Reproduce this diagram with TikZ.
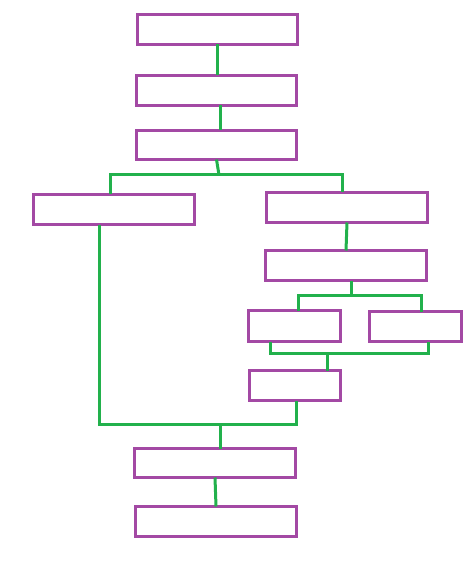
\documentclass[tikz,border=0pt]{standalone}
\usetikzlibrary{calc}
\definecolor{boxpurple}{HTML}{A349A4}
\definecolor{linkgreen}{HTML}{22B14C}
\tikzset{
  box/.style={draw=boxpurple, line width=3pt, rectangle, inner sep=0pt, outer sep=0pt, fill=none},
  link/.style={draw=linkgreen, line width=3pt, line join=miter, line cap=rect}
}
\begin{document}
\begin{tikzpicture}[x=1pt,y=-1pt]
\fill[white] (0,0) rectangle (474,569);
\useasboundingbox (0,0) rectangle (474,569);
% boxes
\node[box, minimum width=160pt, minimum height=30pt] (b1) at (217.5,29.5) {};
\node[box, minimum width=160pt, minimum height=30pt] (b2) at (216.5,90.5) {};
\node[box, minimum width=160pt, minimum height=29pt] (b3) at (216.5,145) {};
\node[box, minimum width=161pt, minimum height=30pt] (b4) at (114,209.5) {};
\node[box, minimum width=161pt, minimum height=30pt] (b5) at (347,207.5) {};
\node[box, minimum width=161pt, minimum height=30pt] (b6) at (346,265.5) {};
\node[box, minimum width=92pt, minimum height=31pt] (b7) at (294.5,326) {};
\node[box, minimum width=92pt, minimum height=30pt] (b8) at (415.5,326.5) {};
\node[box, minimum width=91pt, minimum height=30pt] (b9) at (295,385.5) {};
\node[box, minimum width=161pt, minimum height=29pt] (b10) at (215,463) {};
\node[box, minimum width=161pt, minimum height=30pt] (b11) at (216,521.5) {};
% junction coordinates
\coordinate (j1) at (219,175);
\coordinate (j1L) at (110,175);
\coordinate (j1R) at (342,175);
\coordinate (j2) at (351,295);
\coordinate (j2L) at (298,295);
\coordinate (j2R) at (421,295);
\coordinate (j3) at (327,353);
\coordinate (j3L) at (270,353);
\coordinate (j3R) at (428,353);
\coordinate (j4) at (220,424);
\coordinate (j4L) at (99,424);
\coordinate (j4R) at (296,424);
% connectors
\draw[link, line cap=butt] (b1.south -| 217,0) -- (b2.north -| 217,0);
\draw[link, line cap=butt] (b2.south -| 220,0) -- (b3.north -| 220,0);
\draw[link, line cap=butt] (b3.south) -- (j1);
\draw[link, line cap=butt] (b4.north -| j1L) -- (j1L) -- (j1R) -- (b5.north -| j1R);
\draw[link, line cap=butt] (b5.south) -- (b6.north);
\draw[link, line cap=butt] (j2 |- b6.south) -- (j2);
\draw[link, line cap=butt] (b7.north -| j2L) -- (j2L) -- (j2R) -- (b8.north -| j2R);
\draw[link, line cap=butt] (b7.south -| j3L) -- (j3L) -- (j3R) -- (b8.south -| j3R);
\draw[link, line cap=butt] (j3) -- (b9.north -| j3);
\draw[link, line cap=butt] (b4.south -| j4L) -- (j4L) -- (j4R) -- (b9.south -| j4R);
\draw[link, line cap=butt] (j4) -- (b10.north -| j4);
\draw[link, line cap=butt] (b10.south) -- (b11.north);
\end{tikzpicture}
\end{document}
